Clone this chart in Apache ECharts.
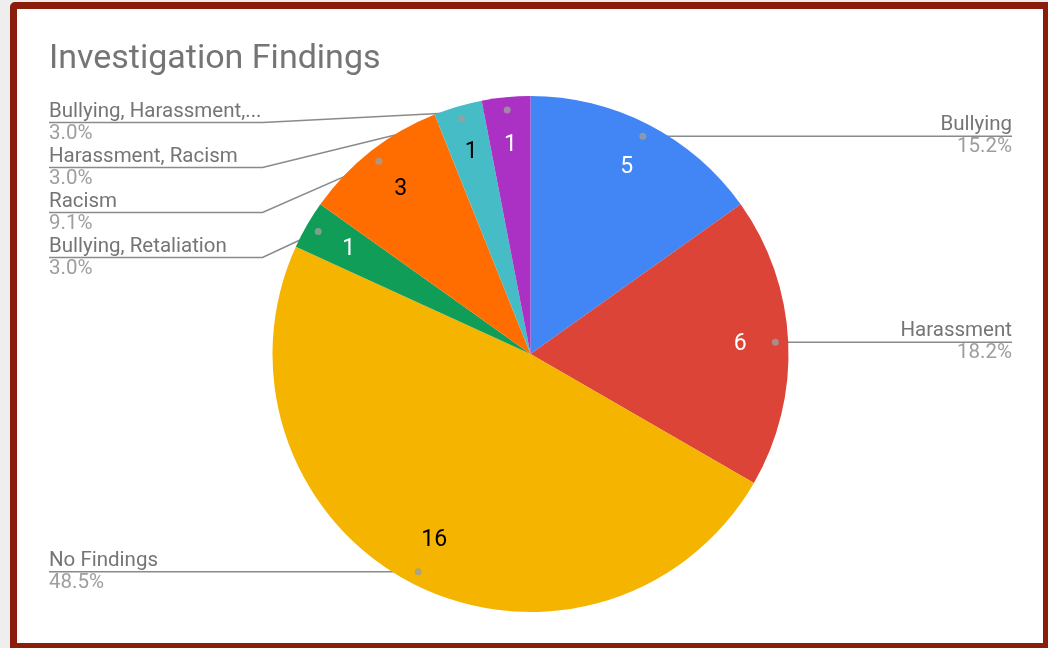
<!DOCTYPE html>
<html>
<head>
<meta charset="utf-8">
<script src="https://cdn.jsdelivr.net/npm/echarts@6/dist/echarts.min.js"></script>
<style>
  html, body { margin: 0; padding: 0; background: #eeeeee; overflow: hidden; }
  #frame { position: absolute; left: 10px; top: 2px; width: 1040px; height: 648px; box-sizing: border-box;
           border: 7px solid #8b1d0c; border-top-left-radius: 5px; background: #ffffff; }
  #chart { position: absolute; left: 0; top: 0; width: 1048px; height: 648px; }
</style>
</head>
<body>
<div id="frame"></div>
<div id="chart"></div>
<script>
// ---- data ----
const categories = ['Bullying', 'Harassment', 'No Findings', 'Bullying, Retaliation', 'Racism', 'Harassment, Racism', 'Bullying, Harassment,...'];
const counts = [5, 6, 16, 1, 3, 1, 1];
const chartTitle = 'Investigation Findings';

// ---- styles ----
const sliceColors = ['#4285f4', '#db4437', '#f4b400', '#0f9d58', '#ff6d01', '#46bdc6', '#ab30c4'];
const valueTextColors = ['#ffffff', '#ffffff', '#000000', '#ffffff', '#000000', '#000000', '#ffffff'];

// ---- layout ----
const CX = 530.5, CY = 354, R = 258;
// label area (labels are kept between its top and bottom)
const VIEW = { left: 13, top: 100, width: 1035, height: 512 };
const FONT = 'Roboto';

const total = counts.reduce((a, b) => a + b, 0);
const pieData = categories.map((n, i) => ({ name: n, value: counts[i] }));

// dot positions (radius fraction, angle in value units) via polar axes
let acc = 0;
const dotData = counts.map(v => { const mid = acc + v / 2; acc += v; return [0.95, mid]; });

const chart = echarts.init(document.getElementById('chart'), null, { renderer: 'canvas' });

const viewBox = { left: VIEW.left, top: VIEW.top, width: VIEW.width, height: VIEW.height };
const pieCenter = [CX - VIEW.left, CY - VIEW.top];

chart.setOption({
  animation: false,
  title: {
    text: chartTitle, left: 49, top: 42, padding: 0,
    textStyle: { fontFamily: FONT, fontSize: 34, fontWeight: 'normal', color: '#757575' }
  },
  polar: { center: [CX, CY], radius: R },
  angleAxis: { type: 'value', min: 0, max: total, startAngle: 90, clockwise: true, show: false },
  radiusAxis: { type: 'value', min: 0, max: 1, show: false },
  series: [
    {
      type: 'pie', ...viewBox, center: pieCenter, radius: [0, R],
      startAngle: 90, clockwise: true, silent: true,
      data: pieData.map((d, i) => ({ ...d, itemStyle: { color: sliceColors[i] } })),
      itemStyle: { borderWidth: 0 },
      label: { show: false }, labelLine: { show: false }
    },
    {
      type: 'pie', ...viewBox, center: pieCenter, radius: [R * 0.605, R],
      startAngle: 90, clockwise: true, silent: true, avoidLabelOverlap: false,
      data: pieData.map((d, i) => ({ ...d, label: { color: valueTextColors[i] } })),
      itemStyle: { color: 'transparent', borderWidth: 0 },
      label: { show: true, position: 'inside', formatter: '{c}', fontFamily: FONT, fontSize: 23 },
      labelLine: { show: false }
    },
    {
      type: 'pie', ...viewBox, center: pieCenter, radius: [0, R * 0.95],
      startAngle: 90, clockwise: true, silent: true,
      data: pieData,
      itemStyle: { color: 'transparent', borderWidth: 0 },
      label: {
        show: true, position: 'outer', alignTo: 'edge', edgeDistance: 36,
        padding: [1.5, 0, 1.5, 0],
        formatter: p => '{n|' + p.name + '}\n{p|' + (p.value / total * 100).toFixed(1) + '%}',
        rich: {
          n: { fontFamily: FONT, fontSize: 20.5, color: '#757575', lineHeight: 22 },
          p: { fontFamily: FONT, fontSize: 20.5, color: '#9e9e9e', lineHeight: 22 }
        }
      },
      labelLine: { show: true, length: 0, length2: 10, minTurnAngle: 0, maxSurfaceAngle: 180,
                   lineStyle: { color: '#8a8a8a', width: 1.5 } },
      labelLayout: function (params) {
        const pts = params.labelLinePoints;
        if (!pts) return {};
        const rect = params.labelRect;
        const y = rect.y + rect.height / 2;
        const isLeft = rect.x + rect.width / 2 < CX;
        const bendX = isLeft ? CX - R - 10 : CX + R + 10;
        const farX = isLeft ? rect.x : rect.x + rect.width;
        return { labelLinePoints: [pts[0], [bendX, y], [farX, y]] };
      }
    },
    {
      type: 'scatter', coordinateSystem: 'polar', silent: true, z: 5,
      symbol: 'circle', symbolSize: 7,
      itemStyle: { color: '#9e9e9e' },
      data: dotData
    }
  ]
});
</script>
</body>
</html>
